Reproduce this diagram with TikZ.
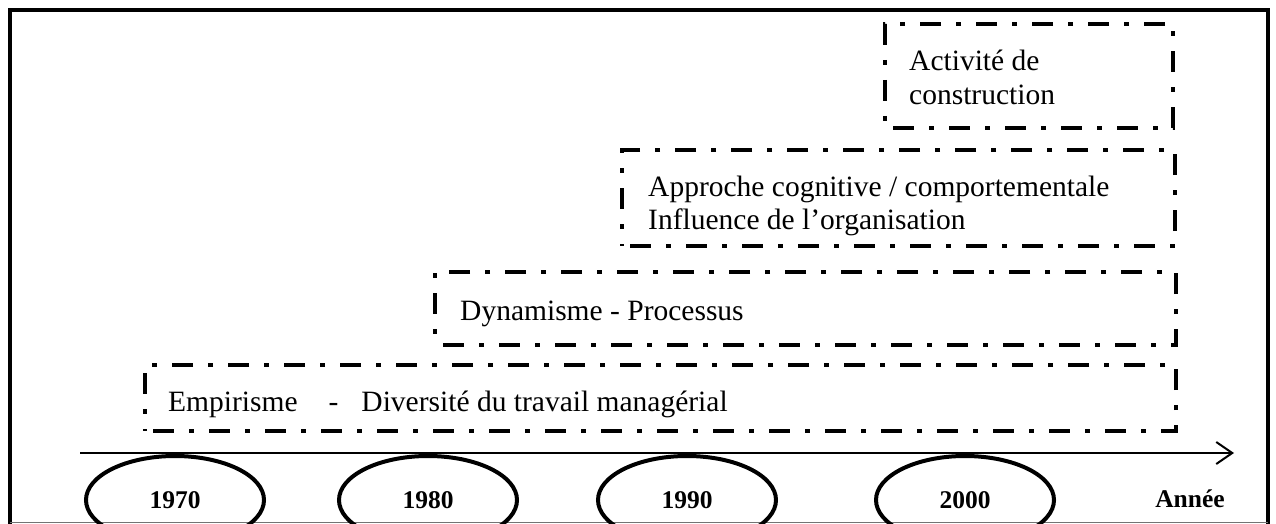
\documentclass[tikz,border=0pt]{standalone}
\usepackage{fontspec}
\setmainfont{Liberation Serif}
\usetikzlibrary{shapes.geometric,arrows.meta}

\tikzset{
  stagebox/.style={draw, line width=4.5pt, line cap=butt,
    dash pattern=on 21pt off 15pt on 5pt off 15pt, dash phase=-8pt},
  stagetext/.style={anchor=base west, inner sep=0pt,
    font=\fontsize{29.5}{34}\selectfont},
  yearmark/.style={ellipse, draw, line width=4pt, minimum width=178pt,
    minimum height=88pt, inner sep=0pt,
    font=\fontsize{25.5}{30}\selectfont\bfseries},
  axisline/.style={line width=2pt, -{Straight Barb[length=16pt,width=22pt,line width=2pt]}}
}

\begin{document}
\begin{tikzpicture}[x=1pt,y=-1pt]
\useasboundingbox (0,0) rectangle (1276,524);

% outer frame, cut at the bottom edge
\draw[line width=4.5pt] (10,524) -- (10,10) -- (1268,10) -- (1268,524);
\draw[line width=1.5pt, black!55] (10,522.5) -- (1268,522.5);

% stage boxes
\node[stagebox, inner sep=0pt, minimum width=288pt, minimum height=104pt] (b4) at (1029,76) {};
\node[stagebox, inner sep=0pt, minimum width=553pt, minimum height=96pt] (b3) at (898.5,198) {};
\node[stagebox, inner sep=0pt, minimum width=741pt, minimum height=73pt] (b2) at (805.5,308.5) {};
\node[stagebox, inner sep=0pt, minimum width=1031pt, minimum height=66pt] (b1) at (660.5,398) {};

% stage labels
\node[stagetext] (t4a) at (909,71) {Activité de};
\node[stagetext] (t4b) at (909,105) {construction};
\node[stagetext] (t3a) at (648,196) {Approche cognitive / comportementale};
\node[stagetext] (t3b) at (648,229) {Influence de l’organisation};
\node[stagetext] (t2) at (460,320) {Dynamisme - Processus};
\node[stagetext] (t1) at (168,411) {Empirisme\hspace{31pt}-\hspace{23pt}Diversité du travail managérial};

% time axis
\coordinate (ax0) at (80,453);
\coordinate (ax1) at (1234,453);
\draw[axisline] (ax0) -- (ax1);

% decades
\node[yearmark] (y70) at (175,500) {1970};
\node[yearmark] (y80) at (428,500) {1980};
\node[yearmark] (y90) at (687,500) {1990};
\node[yearmark] (y00) at (965,500) {2000};
\node[anchor=base, inner sep=0pt, font=\fontsize{25.5}{30}\selectfont\bfseries] (yr) at (1190,507) {Année};
\end{tikzpicture}
\end{document}
